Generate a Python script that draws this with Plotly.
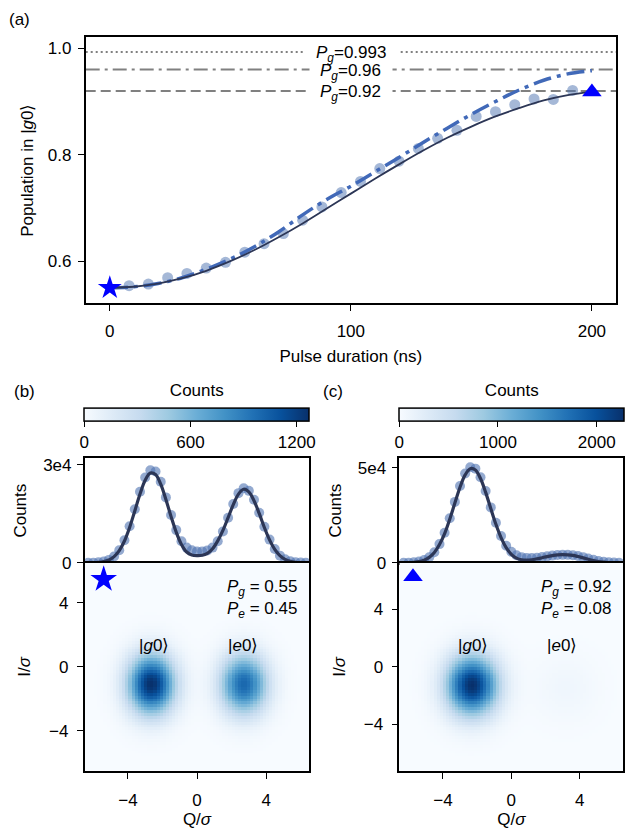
import numpy as np
import plotly.graph_objects as go
import plotly.express as px

# ---------------- data ----------------
# panel (a)
T_DOTS = [8, 16, 24, 32, 40, 48, 56, 64, 72, 80, 88, 96, 104, 112, 120, 128,
          136, 144, 152, 160, 168, 176, 184, 192]
P_DOTS = [0.554, 0.557, 0.569, 0.577, 0.587, 0.598, 0.617, 0.633, 0.652, 0.677,
          0.702, 0.729, 0.750, 0.774, 0.788, 0.812, 0.831, 0.846, 0.872, 0.881,
          0.894, 0.905, 0.904, 0.921]
T_FIT = [0, 10, 20, 30, 40, 50, 60, 70, 80, 90, 100, 110, 120, 130, 140, 150,
         160, 170, 180, 190, 200]
P_FIT = [0.550, 0.552, 0.558, 0.568, 0.582, 0.600, 0.621, 0.645, 0.671, 0.699,
         0.727, 0.755, 0.782, 0.808, 0.832, 0.853, 0.872, 0.888, 0.902, 0.912, 0.918]
P_SIM = [0.550, 0.552, 0.558, 0.569, 0.585, 0.604, 0.627, 0.655, 0.687, 0.716,
         0.741, 0.768, 0.795, 0.823, 0.850, 0.876, 0.900, 0.922, 0.940, 0.952, 0.958]
STAR_PT = (0, 0.550)
TRI_PT = (200, 0.918)
PG_LEVELS = [0.993, 0.96, 0.92]
PG_LABELS = ["0.993", "0.96", "0.92"]
PG_DASH = ["2px,3px", "14px,5px,3px,5px", "10px,5px"]

# panels (b),(c): histogram of Q/sigma
Q_BINS = [-6.3, -6.0, -5.7, -5.4, -5.1, -4.8, -4.5, -4.2, -3.9, -3.6, -3.3, -3.0,
          -2.7, -2.4, -2.1, -1.8, -1.5, -1.2, -0.9, -0.6, -0.3, 0.0, 0.3, 0.6,
          0.9, 1.2, 1.5, 1.8, 2.1, 2.4, 2.7, 3.0, 3.3, 3.6, 3.9, 4.2, 4.5, 4.8,
          5.1, 5.4, 5.7, 6.0, 6.3]
HIST_B = [15, 45, 140, 370, 890, 1950, 3850, 6900, 11200, 16400, 21700, 26100,
          28300, 27900, 24800, 20000, 14600, 10000, 6600, 4650, 3850, 3500, 3500,
          3800, 4650, 6600, 9600, 13800, 18000, 21300, 22800, 22000, 19300, 15300,
          11000, 7100, 4200, 2200, 1070, 470, 185, 65, 20]
FIT_B = [0, 40, 130, 360, 860, 1890, 3730, 6680, 10820, 15870, 21030, 25250,
         27450, 26990, 24040, 19350, 14130, 9330, 5600, 3300, 2400, 2200, 2300,
         2900, 4300, 6700, 9900, 13800, 17800, 21000, 22500, 21700, 19000, 15100,
         10800, 7000, 4100, 2200, 1050, 460, 180, 65, 20]
HIST_C = [40, 100, 270, 650, 1440, 2970, 5600, 9850, 15800, 23500, 32100, 40500,
          47000, 50300, 49600, 45100, 37800, 29200, 21100, 14100, 9000, 5800, 3950,
          3000, 2600, 2500, 2670, 3020, 3400, 3800, 4100, 4200, 4200, 4000, 3600,
          3000, 2300, 1600, 1000, 600, 300, 150, 70]
FIT_C = [30, 90, 250, 620, 1380, 2850, 5400, 9600, 15400, 23000, 31500, 39800,
         46300, 49600, 48900, 44400, 37100, 28600, 20300, 13300, 8000, 4500, 2500,
         1600, 1400, 1600, 2100, 2700, 3300, 3800, 4200, 4300, 4200, 3900, 3300,
         2600, 1900, 1200, 700, 370, 170, 70, 25]

# IQ-plane blobs: (Q centre, I centre, sigma_Q, sigma_I, peak counts)
BLOBS_B = [(-2.65, -1.1, 0.95, 1.30, 1271), (2.7, -1.1, 0.95, 1.30, 1000)]
BLOBS_C = [(-2.3, -1.3, 1.05, 1.45, 2280), (3.2, -1.5, 1.3, 1.6, 90)]
CMAX_B, CMAX_C = 1271, 2280
STAR_IQ = (-5.4, 5.47)
TRI_IQ = (-5.75, 6.28)
POP_B = ("0.55", "0.45")
POP_C = ("0.92", "0.08")

# ---------------- layout helpers ----------------
W, H = 628, 833
def fx(p):
    return p / W
def fy(p):
    return 1 - p / H

FONT = "Liberation Sans, Arial, sans-serif"
FS = 17
DOT = "rgba(76,114,176,0.5)"
DOTH = "rgba(76,114,176,0.6)"
NAVY = "#2c3656"
SIMC = "#4169b8"
BLUES = px.colors.sequential.Blues

def iq_image(qr, ir, n, blobs):
    qe = np.linspace(qr[0], qr[1], n + 1)
    ie = np.linspace(ir[0], ir[1], n + 1)
    qc = (qe[:-1] + qe[1:]) / 2
    ic = (ie[:-1] + ie[1:]) / 2
    Q, I = np.meshgrid(qc, ic)
    Z = np.zeros_like(Q)
    for q0, i0, sq, si, a in blobs:
        Z += a * np.exp(-((Q - q0) ** 2) / (2 * sq ** 2) - ((I - i0) ** 2) / (2 * si ** 2))
    return qc, ic, np.round(Z)

QR_B, IR_B = (-6.5, 6.5), (-6.5, 6.5)
QR_C, IR_C = (-6.55, 6.55), (-7.25, 7.25)

fig = go.Figure()

# ---- panel (a)
fig.add_trace(go.Scatter(x=T_DOTS, y=P_DOTS, mode="markers",
                         marker=dict(size=11, color=DOT), xaxis="x", yaxis="y"))
fig.add_trace(go.Scatter(x=T_FIT, y=P_SIM, mode="lines", line_shape="spline",
                         line=dict(color=SIMC, width=3.5, dash="18px,6px,4px,6px"),
                         xaxis="x", yaxis="y"))
fig.add_trace(go.Scatter(x=T_FIT, y=P_FIT, mode="lines", line_shape="spline",
                         line=dict(color=NAVY, width=1.8), xaxis="x", yaxis="y"))
fig.add_trace(go.Scatter(x=[STAR_PT[0]], y=[STAR_PT[1]], mode="markers",
                         marker=dict(symbol="star", size=18, color="#0000ff"),
                         xaxis="x", yaxis="y"))
fig.add_trace(go.Scatter(x=[TRI_PT[0]], y=[TRI_PT[1]], mode="markers",
                         marker=dict(symbol="triangle-up", size=17, color="#0000ff"),
                         xaxis="x", yaxis="y"))

shapes = []
annotations = []
# white gaps in the reference lines behind the labels
for lev, lab, dsh in zip(PG_LEVELS, PG_LABELS, PG_DASH):
    shapes.append(dict(type="line", xref="x domain", yref="y", x0=0, x1=1, y0=lev, y1=lev,
                       line=dict(color="#808080", width=2, dash=dsh), layer="below"))
    annotations.append(dict(x=100, y=lev, xref="x", yref="y", showarrow=False,
                            text="", bgcolor="white", width=34 + 12 * len(lab), height=6,
                            borderpad=0))
for lev, lab in zip(PG_LEVELS, PG_LABELS):
    annotations.append(dict(x=100, y=lev, xref="x", yref="y", showarrow=False,
                            text="<i>P</i><sub><i>g</i></sub>=" + lab,
                            font=dict(size=FS, family=FONT, color="black"),
                            yshift=-2))

# ---- histograms
for xa, ya, hist, fit in (("x2", "y2", HIST_B, FIT_B), ("x4", "y4", HIST_C, FIT_C)):
    fig.add_trace(go.Scatter(x=Q_BINS, y=hist, mode="markers",
                             marker=dict(size=10, color=DOTH), xaxis=xa, yaxis=ya))
    fig.add_trace(go.Scatter(x=Q_BINS, y=fit, mode="lines", line_shape="spline",
                             line=dict(color=NAVY, width=3.2), xaxis=xa, yaxis=ya))

# ---- IQ heatmaps
CB_SHIFT = 36
cb_common = dict(orientation="h", lenmode="pixels", len=225, thicknessmode="pixels",
                 thickness=13, xanchor="left", yanchor="bottom", xpad=0, ypad=0,
                 outlinewidth=1.5, outlinecolor="black", ticks="outside", ticklen=6,
                 tickwidth=1.4, tickcolor="black",
                 tickfont=dict(size=FS, family=FONT, color="black"),
                 title=dict(text="Counts", side="top", font=dict(size=FS, family=FONT, color="black")))

qc, ic, zb = iq_image(QR_B, IR_B, 72, BLOBS_B)
fig.add_trace(go.Heatmap(x=qc, y=ic, z=zb, colorscale=BLUES, zmin=0, zmax=CMAX_B,
                         xaxis="x3", yaxis="y3",
                         colorbar=dict(cb_common, x=fx(84.3), y=fy(421 + CB_SHIFT),
                                       tickvals=[0, 600, 1200])))
qc, ic, zc = iq_image(QR_C, IR_C, 72, BLOBS_C)
fig.add_trace(go.Heatmap(x=qc, y=ic, z=zc, colorscale=BLUES, zmin=0, zmax=CMAX_C,
                         xaxis="x5", yaxis="y5",
                         colorbar=dict(cb_common, x=fx(399.3), y=fy(421 + CB_SHIFT),
                                       tickvals=[0, 1000, 2000])))
fig.add_trace(go.Scatter(x=[STAR_IQ[0]], y=[STAR_IQ[1]], mode="markers",
                         marker=dict(symbol="star", size=20, color="#0000ff"),
                         xaxis="x3", yaxis="y3"))
fig.add_trace(go.Scatter(x=[TRI_IQ[0]], y=[TRI_IQ[1]], mode="markers",
                         marker=dict(symbol="triangle-up", size=17, color="#0000ff"),
                         xaxis="x5", yaxis="y5"))

def ann(x, y, text, xanchor="center", size=FS):
    annotations.append(dict(x=x, y=y, xref="paper", yref="paper", text=text,
                            showarrow=False, xanchor=xanchor, yanchor="middle",
                            font=dict(size=size, family=FONT, color="black")))

ann(fx(7), fy(17), "(a)", "left")
ann(fx(12), fy(395), "(b)", "left")
ann(fx(321), fy(395), "(c)", "left")
ketg = "|<i>g</i>0⟩"
kete = "|<i>e</i>0⟩"
ann(fx(154), fy(653), ketg)
ann(fx(242.7), fy(653), kete)
ann(fx(472.7), fy(653), ketg)
ann(fx(562), fy(653), kete)
ann(fx(299), fy(594), "<i>P</i><sub><i>g</i></sub> = " + POP_B[0], "right")
ann(fx(299), fy(617), "<i>P</i><sub><i>e</i></sub> = " + POP_B[1], "right")
ann(fx(613), fy(594), "<i>P</i><sub><i>g</i></sub> = " + POP_C[0], "right")
ann(fx(613), fy(617), "<i>P</i><sub><i>e</i></sub> = " + POP_C[1], "right")

def axis(**kw):
    d = dict(showline=True, linewidth=1.6, linecolor="black", mirror=True,
             ticks="outside", ticklen=6, tickwidth=1.4, tickcolor="black",
             showgrid=False, zeroline=False,
             tickfont=dict(size=FS, family=FONT, color="black"))
    d.update(kw)
    return d

TF = dict(size=FS, family=FONT, color="black")
XB = [fx(84.7), fx(309.3)]
XC = [fx(399.3), fx(623.3)]
YH = [fy(568.7), fy(462.7)]
YM = [fy(780), fy(568.7)]

fig.update_layout(
    width=W, height=H, margin=dict(l=0, r=0, t=0, b=0),
    paper_bgcolor="white", plot_bgcolor="white", showlegend=False,
    font=dict(family=FONT, size=FS, color="black"),
    xaxis=axis(domain=[fx(85.7), fx(616)], range=[-10, 210], anchor="y",
               tickvals=[0, 100, 200], ticklabelstandoff=6,
               title=dict(text="Pulse duration (ns)", font=TF, standoff=10)),
    yaxis=axis(domain=[fy(305), fy(34.7)], range=[0.521, 1.021], anchor="x",
               tickvals=[0.6, 0.8, 1.0], ticktext=["0.6", "0.8", "1.0"], ticklabelstandoff=3,
               title=dict(text="Population in |<i>g</i>0⟩", font=TF, standoff=10)),
    xaxis2=axis(domain=XB, range=list(QR_B), anchor="y2", ticks="", showticklabels=False),
    yaxis2=axis(domain=YH, range=[0, 31900], anchor="x2", tickvals=[0, 30000],
                ticktext=["0", "3e4"], ticklabelstandoff=2,
                title=dict(text="Counts", font=TF, standoff=12)),
    xaxis3=axis(domain=XB, range=list(QR_B), anchor="y3", tickvals=[-4, 0, 4],
                ticktext=["−4", "0", "4"], ticklabelstandoff=7,
                title=dict(text="Q/<i>σ</i>", font=TF, standoff=2)),
    yaxis3=axis(domain=YM, range=list(IR_B), anchor="x3", tickvals=[-4, 0, 4],
                ticktext=["−4", "0", "4"], ticklabelstandoff=5,
                title=dict(text="I/<i>σ</i>", font=TF, standoff=14)),
    xaxis4=axis(domain=XC, range=list(QR_C), anchor="y4", ticks="", showticklabels=False),
    yaxis4=axis(domain=YH, range=[0, 54960], anchor="x4", tickvals=[0, 50000],
                ticktext=["0", "5e4"], ticklabelstandoff=2,
                title=dict(text="Counts", font=TF, standoff=12)),
    xaxis5=axis(domain=XC, range=list(QR_C), anchor="y5", tickvals=[-4, 0, 4],
                ticktext=["−4", "0", "4"], ticklabelstandoff=7,
                title=dict(text="Q/<i>σ</i>", font=TF, standoff=2)),
    yaxis5=axis(domain=YM, range=list(IR_C), anchor="x5", tickvals=[-4, 0, 4],
                ticktext=["−4", "0", "4"], ticklabelstandoff=5,
                title=dict(text="I/<i>σ</i>", font=TF, standoff=14)),
    shapes=shapes, annotations=annotations,
)

fig.write_html("out.html")
